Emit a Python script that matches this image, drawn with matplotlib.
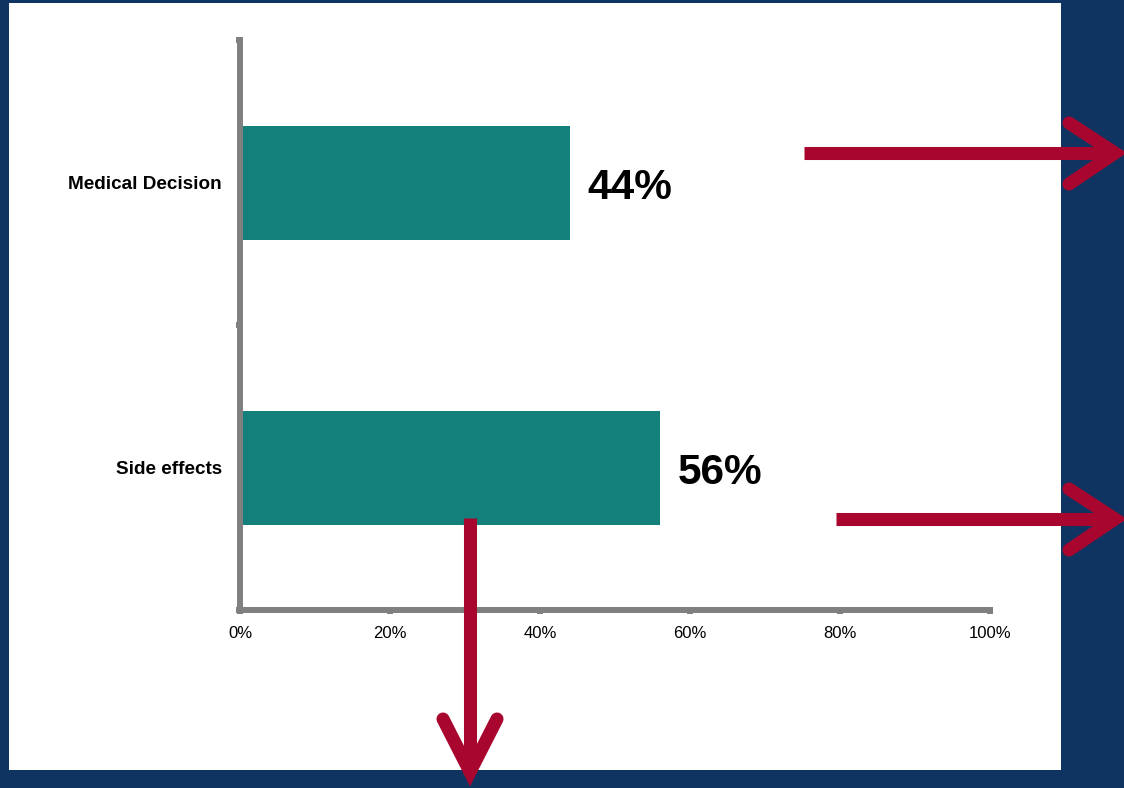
import matplotlib.pyplot as plt
from matplotlib.patches import Rectangle
from matplotlib.lines import Line2D
from matplotlib.ticker import FixedLocator

plt.rcParams['font.family'] = ['Liberation Sans', 'DejaVu Sans']

categories = ['Medical Decision', 'Side effects']
shares = [0.44, 0.56]
xticks = [0, 0.2, 0.4, 0.6, 0.8, 1.0]
xtick_labels = ['0%', '20%', '40%', '60%', '80%', '100%']

navy = '#0f3461'
teal = '#13807b'
crimson = '#a8062f'
grey = '#808080'

W, H = 1124, 788
fig = plt.figure(figsize=(W / 100, H / 100), dpi=100, facecolor=navy)


def px(x, y):
    # pixel coords (top-left origin) -> figure fraction
    return x / W, 1 - y / H


# white slide panel
x0, y0 = px(9, 770)
x1, y1 = px(1061, 3)
fig.add_artist(Rectangle((x0, y0), x1 - x0, y1 - y0, transform=fig.transFigure,
                         facecolor='white', edgecolor='none', zorder=0))

ax = fig.add_axes([240 / W, (H - 610) / H, 750 / W, 570 / H])
ax.patch.set_alpha(0)

ypos = list(range(len(categories)))[::-1]
ax.barh(ypos, shares, height=0.4, color=teal, zorder=2)
for y, v in zip(ypos, shares):
    ax.text(v + 0.023, y - 0.02, f'{v * 100:.0f}%', ha='left', va='center',
            fontsize=30.5, fontweight='bold', color='black')

ax.set_xlim(0, 1)
ax.set_ylim(-0.5, len(categories) - 0.5)
ax.set_xticks(xticks)
ax.set_xticklabels(xtick_labels, fontsize=12)
ax.set_yticks(ypos)
ax.set_yticklabels(categories, fontsize=13.6, fontweight='bold')
ax.yaxis.set_minor_locator(FixedLocator([-0.5, 0.5, 1.5]))

for side in ['top', 'right']:
    ax.spines[side].set_visible(False)
for side in ['left', 'bottom']:
    ax.spines[side].set_color(grey)
    ax.spines[side].set_linewidth(4.3)
    ax.spines[side].set_zorder(3)

ax.tick_params(axis='y', which='major', length=0, pad=13)
ax.tick_params(axis='y', which='minor', length=3, width=4.3, color=grey)
ax.tick_params(axis='x', length=3, width=4.3, color=grey, pad=8.5)


def arrow(start, vertex, wing1, wing2):
    lw = 9.4
    sx, sy = px(*start)
    vx, vy = px(*vertex)
    shaft = Line2D([sx, vx], [sy, vy], transform=fig.transFigure,
                   color=crimson, lw=lw, solid_capstyle='butt', zorder=5)
    (ax1, ay1), (ax2, ay2) = px(*wing1), px(*wing2)
    head = Line2D([ax1, vx, ax2], [ay1, vy, ay2], transform=fig.transFigure,
                  color=crimson, lw=lw, solid_capstyle='round',
                  solid_joinstyle='miter', zorder=5)
    fig.add_artist(shaft)
    fig.add_artist(head)


arrow((804, 153), (1115, 153), (1069, 123), (1069, 184))
arrow((836, 519), (1115, 519), (1069, 489), (1069, 550))
arrow((470, 518), (470, 772), (443, 719), (497, 719))

fig.savefig('out.png', dpi=100, facecolor=navy)
